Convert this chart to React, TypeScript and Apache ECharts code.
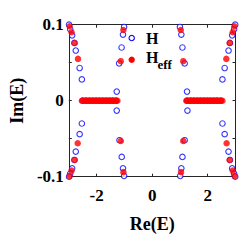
import React, { useEffect, useRef } from "react";
import * as echarts from "echarts";

const xTickValues = [-2, 0, 2];
const yTickValues = [-0.1, -0.05, 0, 0.05, 0.1];
const yLabelValues = [-0.1, 0, 0.1];

// H eigenvalues (blue open circles): [Re, Im]
const hOuterLeft = [
  [-2.53, 0.028], [-2.61, 0.043], [-2.75, 0.066], [-2.8, 0.076], [-2.88, 0.086], [-2.95, 0.094], [-2.99, 0.1],
  [-2.53, -0.03], [-2.61, -0.044], [-2.75, -0.067], [-2.8, -0.078], [-2.88, -0.089], [-2.95, -0.096], [-2.99, -0.1],
];
const hOuterRight = [
  [2.53, 0.028], [2.61, 0.043], [2.75, 0.066], [2.8, 0.076], [2.88, 0.086], [2.95, 0.094], [2.99, 0.1],
  [2.53, -0.03], [2.61, -0.044], [2.75, -0.067], [2.8, -0.078], [2.88, -0.089], [2.95, -0.096], [2.99, -0.1],
];
const hInner = [
  [-1.275, 0.012], [-1.187, 0.049], [-1.1, 0.07], [-1.05, 0.087], [-1.01, 0.097],
  [-1.275, -0.013], [-1.175, -0.052], [-1.095, -0.074], [-1.05, -0.089], [-1.01, -0.099],
  [1.255, 0.012], [1.09, 0.07], [1.05, 0.087], [1.0, 0.097], [1.17, 0.049],
  [1.27, -0.013], [1.17, -0.052], [1.09, -0.074], [1.05, -0.089], [1.01, -0.099],
];
const hReal = [
  [-2.5, 0], [-2.38, 0], [-2.26, 0], [-2.14, 0], [-2.02, 0], [-1.9, 0], [-1.78, 0], [-1.66, 0], [-1.54, 0], [-1.42, 0], [-1.3, 0],
  [1.26, 0], [1.38, 0], [1.5, 0], [1.62, 0], [1.74, 0], [1.86, 0], [1.98, 0], [2.1, 0], [2.22, 0], [2.34, 0], [2.47, 0],
];

// H_eff eigenvalues (red filled dots): [Re, Im]
const heffOuter = [
  [-2.67, 0.055], [-2.79, 0.076], [-2.9, 0.09], [-2.97, 0.098],
  [-2.68, -0.056], [-2.79, -0.078], [-2.9, -0.092], [-2.97, -0.099],
  [2.67, 0.055], [2.79, 0.076], [2.9, 0.09], [2.96, 0.098],
  [2.68, -0.056], [2.79, -0.078], [2.9, -0.092], [2.97, -0.099],
];
const heffInner = [
  [-1.13, 0.052], [-1.035, 0.093], [-1.13, -0.053], [-1.035, -0.094],
  [1.12, 0.052], [1.03, 0.093], [1.12, -0.053], [1.04, -0.094],
];
const heffReal = [
  [-2.53, 0], [-2.47, 0], [-2.4, 0], [-2.34, 0], [-2.27, 0], [-2.21, 0], [-2.14, 0], [-2.08, 0], [-2.01, 0], [-1.95, 0], [-1.88, 0],
  [-1.82, 0], [-1.75, 0], [-1.69, 0], [-1.62, 0], [-1.56, 0], [-1.49, 0], [-1.43, 0], [-1.36, 0], [-1.3, 0], [-1.25, 0],
  [1.23, 0], [1.29, 0], [1.36, 0], [1.42, 0], [1.49, 0], [1.55, 0], [1.62, 0], [1.68, 0], [1.75, 0], [1.81, 0], [1.88, 0],
  [1.94, 0], [2.01, 0], [2.07, 0], [2.14, 0], [2.2, 0], [2.27, 0], [2.33, 0], [2.4, 0], [2.46, 0], [2.53, 0],
];

const SERIF = "'Liberation Serif', 'Times New Roman', serif";
const AX = "#262626";

export default function App() {
  const ref = useRef<HTMLDivElement>(null);
  useEffect(() => {
    if (!ref.current) return;
    const chart = echarts.init(ref.current, undefined, { renderer: "svg" });
    const lbl = { fontFamily: SERIF, fontWeight: "bold" as const, fontSize: 17, color: "#000" };
    const fmt = (v: number) => (v === 0 ? "0" : String(v));
    chart.setOption({
      animation: false,
      backgroundColor: "#fff",
      grid: { left: 55.5, top: 24.7, width: 180, height: 152 },
      xAxis: [
        {
          type: "value", min: -3, max: 3, position: "bottom",
          name: "Re(E)", nameLocation: "middle", nameGap: 38,
          nameTextStyle: { fontFamily: SERIF, fontWeight: "bold", fontSize: 18, color: "#000" },
          axisLine: { show: true, onZero: false, lineStyle: { color: AX, width: 1 } },
          axisTick: { show: true, inside: true, length: 3, customValues: xTickValues, lineStyle: { color: AX } },
          axisLabel: { ...lbl, margin: 10, customValues: xTickValues, formatter: fmt },
          splitLine: { show: false },
        },
        {
          type: "value", min: -3, max: 3, position: "top",
          axisLine: { show: true, onZero: false, lineStyle: { color: AX, width: 1 } },
          axisTick: { show: true, inside: true, length: 3, customValues: xTickValues, lineStyle: { color: AX } },
          axisLabel: { show: false },
          splitLine: { show: false },
        },
      ],
      yAxis: [
        {
          type: "value", min: -0.1, max: 0.1, position: "left",
          name: "Im(E)", nameLocation: "middle", nameGap: 34, nameRotate: 90,
          nameTextStyle: { fontFamily: SERIF, fontWeight: "bold", fontSize: 18, color: "#000" },
          axisLine: { show: true, onZero: false, lineStyle: { color: AX, width: 1 } },
          axisTick: { show: true, inside: true, length: 3, customValues: yTickValues, lineStyle: { color: AX } },
          axisLabel: { ...lbl, margin: 5, customValues: yLabelValues, formatter: fmt },
          splitLine: { show: false },
        },
        {
          type: "value", min: -0.1, max: 0.1, position: "right",
          axisLine: { show: true, onZero: false, lineStyle: { color: AX, width: 1 } },
          axisTick: { show: true, inside: true, length: 3, customValues: yTickValues, lineStyle: { color: AX } },
          axisLabel: { show: false },
          splitLine: { show: false },
        },
      ],
      series: [
        {
          name: "H", type: "scatter", symbol: "circle", symbolSize: 5.5, clip: false,
          data: [...hOuterLeft, ...hOuterRight, ...hInner, ...hReal],
          itemStyle: { color: "#fff", borderColor: "#0000ff", borderWidth: 1.1 },
        },
        {
          name: "Heff", type: "scatter", symbol: "circle", symbolSize: 6.5, clip: false,
          data: [...heffOuter, ...heffInner, ...heffReal],
          itemStyle: { color: "#ff0000", borderColor: "#ff0000", borderWidth: 0 },
        },
      ],
      graphic: [
        { type: "circle", shape: { cx: 131.7, cy: 38, r: 2.7 }, style: { fill: "#fff", stroke: "#0000ff", lineWidth: 1.1 } },
        { type: "text", x: 146, y: 38.5, style: { text: "H", font: `bold 16px ${SERIF}`, fill: "#000", verticalAlign: "middle", align: "left" } },
        { type: "circle", shape: { cx: 131.7, cy: 59.7, r: 3.2 }, style: { fill: "#ff0000", stroke: "#ff0000", lineWidth: 0 } },
        { type: "text", x: 146, y: 57, style: { text: "H", font: `bold 16px ${SERIF}`, fill: "#000", verticalAlign: "middle", align: "left" } },
        { type: "text", x: 157.5, y: 64, style: { text: "eff", font: `bold 13px ${SERIF}`, fill: "#000", verticalAlign: "middle", align: "left" } },
      ],
    });
    return () => chart.dispose();
  }, []);
  return <div ref={ref} style={{ width: 249, height: 250, margin: -8 }} />;
}
